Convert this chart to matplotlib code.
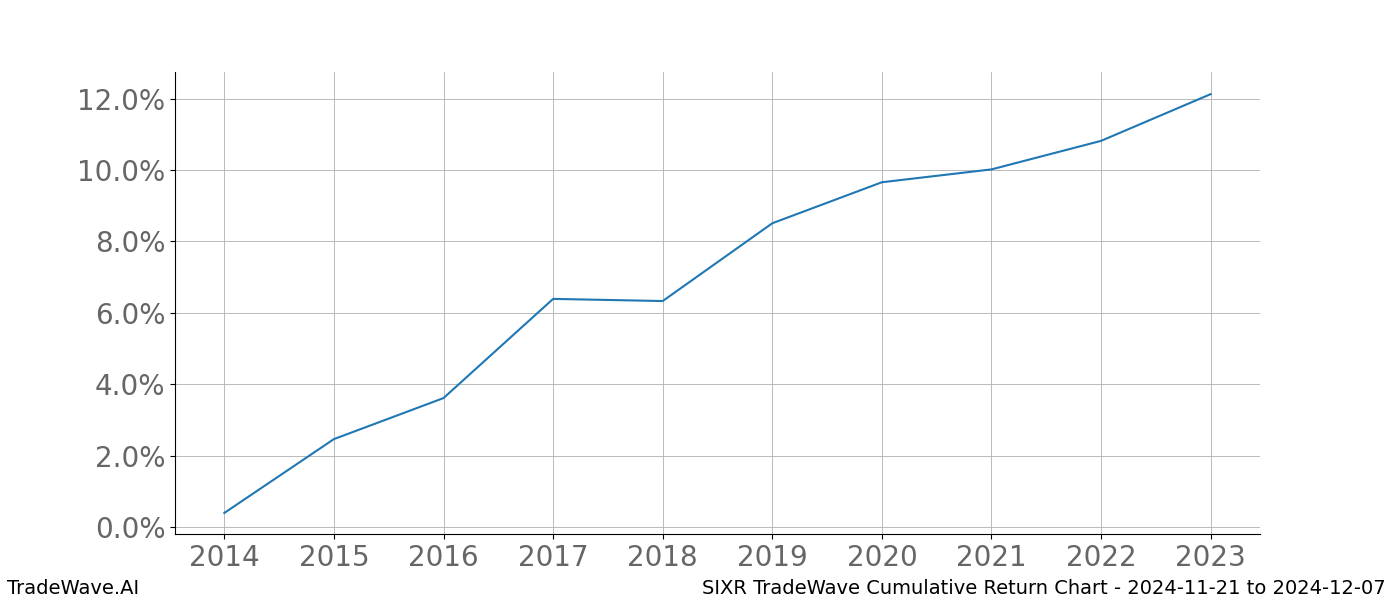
import matplotlib
matplotlib.use("Agg")
import matplotlib.pyplot as plt
from matplotlib.ticker import FuncFormatter

years = [2014, 2015, 2016, 2017, 2018, 2019, 2020, 2021, 2022, 2023]
returns = [0.39, 2.46, 3.61, 6.39, 6.33, 8.51, 9.66, 10.02, 10.82, 12.13]
yticks = [0, 2, 4, 6, 8, 10, 12]

fig = plt.figure(figsize=(14, 6), dpi=100)
ax = fig.add_axes([0.125, 0.11, 0.775, 0.77])
ax.plot(years, returns, color="#1f77b4", linewidth=1.5)
ax.set_xlim(2013.55, 2023.45)
ax.set_ylim(-0.2, 12.75)
ax.set_xticks(years)
ax.set_yticks(yticks)
ax.yaxis.set_major_formatter(FuncFormatter(lambda v, p: f"{v:.1f}%"))
ax.grid(True, color="#b0b0b0", linewidth=0.6)
ax.tick_params(labelsize=20, labelcolor="#666666")
ax.spines["top"].set_visible(False)
ax.spines["right"].set_visible(False)
fig.text(0.005, 0.01, "TradeWave.AI", fontsize=14)
fig.text(0.99, 0.01, "SIXR TradeWave Cumulative Return Chart - 2024-11-21 to 2024-12-07", fontsize=14, ha="right")
fig.savefig("out.png")
